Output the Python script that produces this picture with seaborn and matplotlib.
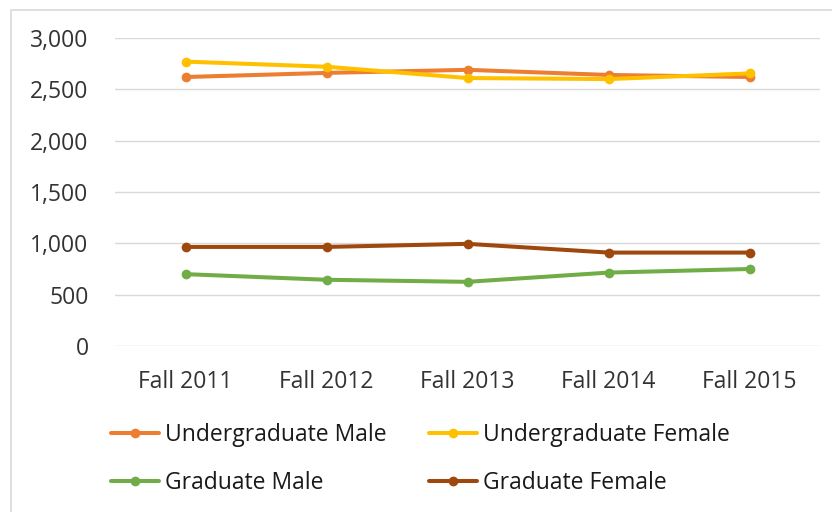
import matplotlib
matplotlib.use("Agg")
import matplotlib.pyplot as plt
import matplotlib.ticker as mticker
from matplotlib.patches import Rectangle
import seaborn as sns
import pandas as pd

terms = ["Fall 2011", "Fall 2012", "Fall 2013", "Fall 2014", "Fall 2015"]
undergrad_male = [2620, 2660, 2690, 2640, 2620]
undergrad_female = [2770, 2720, 2610, 2600, 2655]
grad_male = [700, 645, 625, 715, 750]
grad_female = [965, 965, 995, 910, 910]
series_names = ["Undergraduate Male", "Undergraduate Female", "Graduate Male", "Graduate Female"]
colors = ["#ED7D31", "#FFC000", "#70AD47", "#9E480E"]

rows = []
for name, vals in zip(series_names, [undergrad_male, undergrad_female, grad_male, grad_female]):
    for t, v in zip(terms, vals):
        rows.append({"Term": t, "Enrollment": v, "Series": name})
df = pd.DataFrame(rows)

sns.set_theme(style="white")
plt.rcParams["font.family"] = ["Open Sans", "DejaVu Sans"]

FS = 16.5
fig = plt.figure(figsize=(8.32, 5.12), dpi=100)
ax = fig.add_axes([115 / 832, 1 - 346 / 512, 705 / 832, 308 / 512])

sns.lineplot(data=df, x="Term", y="Enrollment", hue="Series", hue_order=series_names,
             palette=colors, marker="o", markersize=7, markeredgewidth=0,
             linewidth=2.9, ax=ax, sort=False, legend=True)

ax.set_xlim(-0.5, 4.5)
ax.set_ylim(0, 3000)
ax.set_yticks(range(0, 3001, 500))
ax.yaxis.set_major_formatter(mticker.FuncFormatter(lambda v, p: f"{int(v):,}"))
ax.grid(axis="y", color="#D9D9D9", linewidth=1)
ax.set_axisbelow(True)
for s in ax.spines.values():
    s.set_visible(False)
ax.set_xlabel("")
ax.set_ylabel("")
ax.tick_params(axis="both", length=0, labelsize=FS, colors="#333333")
ax.tick_params(axis="y", pad=19)
ax.tick_params(axis="x", pad=17)

handles, labels = ax.get_legend_handles_labels()
ax.get_legend().remove()
hmap = dict(zip(labels, handles))
order = ["Undergraduate Male", "Graduate Male", "Undergraduate Female", "Graduate Female"]
leg = fig.legend([hmap[k] for k in order], order, ncol=2, loc="upper left",
                 bbox_to_anchor=(111 / 832, 1 - 423 / 512), bbox_transform=fig.transFigure,
                 frameon=False, fontsize=FS, borderpad=0, borderaxespad=0,
                 handlelength=2.1, handletextpad=0.25, columnspacing=1.85, labelspacing=1.04)
for t in leg.get_texts():
    t.set_color("#1a1a1a")

fig.patches.append(Rectangle((11 / 832, -0.1), 1.1, 1 - 10 / 512 + 0.1, transform=fig.transFigure,
                             fill=False, edgecolor="#D9D9D9", linewidth=1.2))

fig.savefig("out.png", dpi=100)
